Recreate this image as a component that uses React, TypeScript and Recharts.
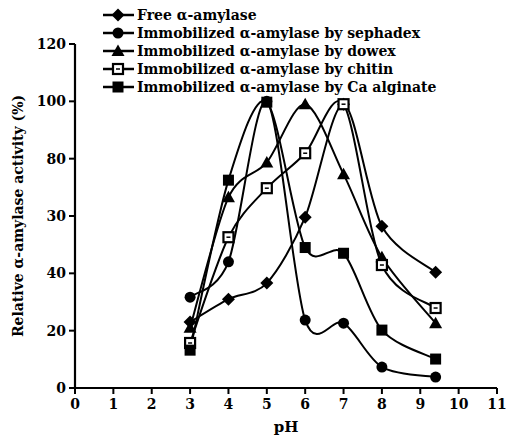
import { LineChart, Line, XAxis, YAxis } from "recharts"

const phValues = [3, 4, 5, 6, 7, 8, 9.4]
const freeValues = [23, 31, 36.6, 59.6, 99, 56.4, 40.4]
const sephadexValues = [31.7, 44, 100, 23.7, 22.6, 7.3, 3.8]
const dowexValues = [21, 66.5, 78.7, 99, 74.6, 45.6, 22.6]
const chitinValues = [15.7, 52.6, 69.7, 81.9, 99, 42.9, 27.9]
const alginateValues = [13.2, 72.5, 99.7, 49, 47, 20.2, 10.1]

const xTicks = [0, 1, 2, 3, 4, 5, 6, 7, 8, 9, 10, 11]
const yTicks = [0, 20, 40, 60, 80, 100, 120]
// labels as printed in the figure (the 60 mark reads "30")
const yTickLabels = ["0", "20", "40", "30", "80", "100", "120"]

const seriesNames = [
    "Free \u03b1-amylase",
    "Immobilized \u03b1-amylase by sephadex",
    "Immobilized \u03b1-amylase by dowex",
    "Immobilized \u03b1-amylase by chitin",
    "Immobilized \u03b1-amylase by Ca alginate",
]

const data = phValues.map((ph, i) => ({
    ph,
    free: freeValues[i],
    sephadex: sephadexValues[i],
    dowex: dowexValues[i],
    chitin: chitinValues[i],
    alginate: alginateValues[i],
}))

const FONT = "'DejaVu Serif', serif"

// catmull-rom style spline through the points
function splineCurve(context: any) {
    let pts: number[][] = []
    return {
        areaStart() {},
        areaEnd() {},
        lineStart() { pts = [] },
        point(x: number, y: number) { pts.push([+x, +y]) },
        lineEnd() {
            const n = pts.length
            if (!n) return
            context.moveTo(pts[0][0], pts[0][1])
            if (n === 1) return
            const k = 0.9
            for (let i = 0; i < n - 1; i++) {
                const p0 = pts[i - 1] || pts[i]
                const p1 = pts[i]
                const p2 = pts[i + 1]
                const p3 = pts[i + 2] || pts[i + 1]
                context.bezierCurveTo(
                    p1[0] + (p2[0] - p0[0]) / 6 * k, p1[1] + (p2[1] - p0[1]) / 6 * k,
                    p2[0] - (p3[0] - p1[0]) / 6 * k, p2[1] - (p3[1] - p1[1]) / 6 * k,
                    p2[0], p2[1]
                )
            }
        },
    }
}

function Marker({ kind, cx, cy }: { kind: number, cx: number, cy: number }) {
    if (kind === 0) {
        return <polygon points={`${cx},${cy - 6.5} ${cx + 6.5},${cy} ${cx},${cy + 6.5} ${cx - 6.5},${cy}`} fill="#000" />
    }
    if (kind === 1) {
        return <circle cx={cx} cy={cy} r={5.5} fill="#000" />
    }
    if (kind === 2) {
        return <polygon points={`${cx},${cy - 6.5} ${cx + 6.5},${cy + 5} ${cx - 6.5},${cy + 5}`} fill="#000" />
    }
    if (kind === 3) {
        return (
            <g>
                <rect x={cx - 5} y={cy - 5} width={10} height={10} fill="#fff" stroke="#000" strokeWidth={2.2} />
                <line x1={cx - 2} x2={cx + 2} y1={cy} y2={cy} stroke="#000" strokeWidth={1.5} />
            </g>
        )
    }
    return <rect x={cx - 5.5} y={cy - 5.5} width={11} height={11} fill="#000" />
}

function makeDot(kind: number) {
    return (props: any) => {
        if (props.cx == null || props.cy == null) return <g key={`d-${kind}-${props.index}`} />
        return <Marker key={`d-${kind}-${props.index}`} kind={kind} cx={props.cx} cy={props.cy} />
    }
}

function YLabel(props: any) {
    const vb = props.viewBox || { x: 0, y: 44, width: 75, height: 344 }
    const cy = vb.y + vb.height / 2
    return (
        <text x={18} y={cy} transform={`rotate(-90, 18, ${cy})`} textAnchor="middle" dominantBaseline="central"
            fontFamily={FONT} fontWeight="bold" fontSize={14} fill="#000">
            Relative {"\u03b1"}-amylase activity (%)
        </text>
    )
}

const keys = ["free", "sephadex", "dowex", "chitin", "alginate"]

export default function App() {
    const tickStyle = { fontFamily: FONT, fontWeight: "bold", fontSize: 14, fill: "#000" }

    return (
        <div style={{ position: "absolute", left: 0, top: 0, width: 508, height: 438, background: "#fff" }}>
            <LineChart width={508} height={438} data={data} margin={{ top: 44, right: 11, bottom: 0, left: 0 }}>
                <XAxis
                    dataKey="ph"
                    type="number"
                    domain={[0, 11]}
                    ticks={xTicks}
                    interval={0}
                    height={50}
                    stroke="#000"
                    strokeWidth={2.2}
                    tickSize={6}
                    tickMargin={5}
                    tick={tickStyle}
                    tickLine={{ stroke: "#000", strokeWidth: 2 }}
                    label={{ value: "pH", position: "insideBottom", offset: 6, style: { fontFamily: FONT, fontWeight: "bold", fontSize: 15, fill: "#000" } }}
                />
                <YAxis
                    type="number"
                    domain={[0, 120]}
                    ticks={yTicks}
                    interval={0}
                    width={75}
                    stroke="#000"
                    strokeWidth={2.2}
                    tickSize={6}
                    tickMargin={3}
                    tick={tickStyle}
                    tickLine={{ stroke: "#000", strokeWidth: 2 }}
                    tickFormatter={(v: number) => yTickLabels[yTicks.indexOf(v)] ?? String(v)}
                    label={<YLabel />}
                />
                {keys.map((k, i) => (
                    <Line
                        key={k}
                        dataKey={k}
                        name={seriesNames[i]}
                        type={splineCurve as any}
                        stroke="#000"
                        strokeWidth={2}
                        dot={makeDot(i)}
                        activeDot={false}
                        isAnimationActive={false}
                    />
                ))}
            </LineChart>
            <svg width={508} height={438} style={{ position: "absolute", left: 0, top: 0, pointerEvents: "none" }}>
                {seriesNames.map((name, i) => {
                    const y = 15 + i * 18
                    return (
                        <g key={name}>
                            <line x1={103} x2={134} y1={y} y2={y} stroke="#000" strokeWidth={2.5} />
                            <Marker kind={i} cx={118} cy={y} />
                            <text x={137} y={y + 5} fontFamily={FONT} fontWeight="bold" fontSize={14} fill="#000">{name}</text>
                        </g>
                    )
                })}
            </svg>
        </div>
    )
}
